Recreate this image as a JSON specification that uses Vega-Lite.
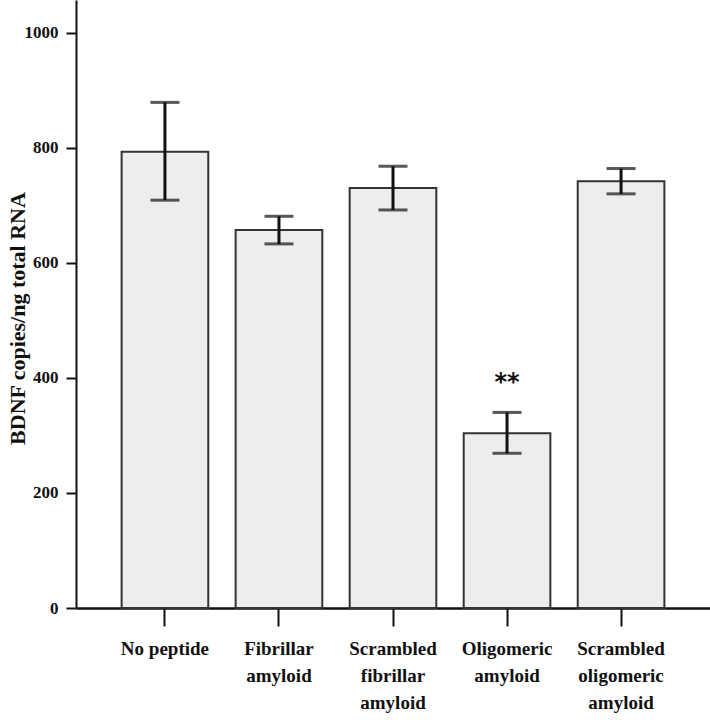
{
  "$schema": "https://vega.github.io/schema/vega-lite/v6.json",
  "autosize": {"type": "none"},
  "padding": {"left": 76, "top": 0, "right": 0, "bottom": 112},
  "width": 634,
  "height": 608,
  "background": "white",
  "config": {"view": {"stroke": null}},
  "data": {
    "values": [
      {"group": "No peptide", "mean": 793, "low": 709, "high": 879, "sig": ""},
      {"group": "Fibrillar amyloid", "mean": 657, "low": 633, "high": 681, "sig": ""},
      {"group": "Scrambled fibrillar amyloid", "mean": 730, "low": 692, "high": 768, "sig": ""},
      {"group": "Oligomeric amyloid", "mean": 304, "low": 269, "high": 340, "sig": "**"},
      {"group": "Scrambled oligomeric amyloid", "mean": 742, "low": 720, "high": 764, "sig": ""}
    ]
  },
  "encoding": {
    "x": {
      "field": "group",
      "type": "nominal",
      "sort": null,
      "scale": {"paddingInner": 0.24, "paddingOuter": 0.4},
      "axis": {
        "title": null,
        "labelAngle": 0,
        "labelFont": "Liberation Serif, DejaVu Serif, serif",
        "labelFontWeight": "bold",
        "labelFontSize": 19,
        "labelColor": "#111",
        "labelLineHeight": 27,
        "labelPadding": 13,
        "labelExpr": "datum.label == 'No peptide' ? datum.label : split(datum.label, ' ')",
        "domainColor": "#111",
        "domainWidth": 2.5,
        "tickColor": "#111",
        "tickWidth": 2,
        "tickSize": 18
      }
    }
  },
  "layer": [
    {
      "mark": {"type": "bar", "fill": "#ededed", "stroke": "#333", "strokeWidth": 2},
      "encoding": {
        "y": {
          "field": "mean",
          "type": "quantitative",
          "scale": {"domain": [0, 1057], "nice": false},
          "axis": {
            "title": "BDNF copies/ng total RNA",
            "titleFont": "Liberation Serif, DejaVu Serif, serif",
            "titleFontWeight": "bold",
            "titleFontSize": 22,
            "titleColor": "#111",
            "titleX": -59,
            "titleY": 318,
            "titleAngle": -90,
            "titleAlign": "center",
            "titleBaseline": "middle",
            "values": [0, 200, 400, 600, 800, 1000],
            "format": "d",
            "labelFont": "Liberation Serif, DejaVu Serif, serif",
            "labelFontWeight": "bold",
            "labelFontSize": 17,
            "labelColor": "#111",
            "labelPadding": 8,
            "grid": false,
            "domainColor": "#111",
            "domainWidth": 2,
            "tickColor": "#111",
            "tickWidth": 2,
            "tickSize": 10
          }
        }
      }
    },
    {
      "mark": {"type": "rule", "color": "#111", "strokeWidth": 3},
      "encoding": {
        "y": {"field": "low", "type": "quantitative"},
        "y2": {"field": "high"}
      }
    },
    {
      "mark": {"type": "tick", "color": "#111", "size": 29, "thickness": 3},
      "encoding": {"y": {"field": "low", "type": "quantitative"}}
    },
    {
      "mark": {"type": "tick", "color": "#111", "size": 29, "thickness": 3},
      "encoding": {"y": {"field": "high", "type": "quantitative"}}
    },
    {
      "mark": {"type": "text", "font": "DejaVu Sans", "fontWeight": "bold", "fontSize": 24, "color": "#111", "dy": 4},
      "encoding": {
        "y": {"field": "high", "type": "quantitative"},
        "text": {"field": "sig"},
        "yOffset": {"value": -33}
      }
    }
  ]
}
